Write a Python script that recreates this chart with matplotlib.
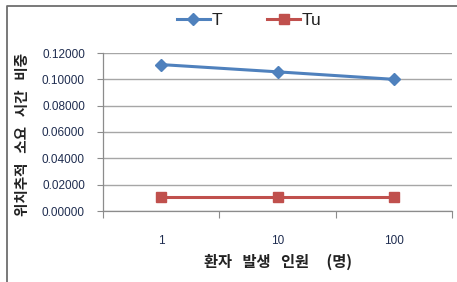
import matplotlib
matplotlib.use("Agg")
import matplotlib.pyplot as plt
from matplotlib.lines import Line2D
from matplotlib.ticker import FixedLocator, FormatStrFormatter

categories = ["1", "10", "100"]
series_T = [0.1112, 0.1057, 0.1000]
series_Tu = [0.0110, 0.0110, 0.0110]
y_ticks = [0.0, 0.02, 0.04, 0.06, 0.08, 0.10, 0.12]
x_label = "환자   발생   인원     (명)"
y_label = "위치추적   소요   시간   비중"

W, H = 457, 282
fig = plt.figure(figsize=(W / 100, H / 100), dpi=100)
fig.patch.set_facecolor("white")

ax = fig.add_axes([103 / W, 1 - 211 / H, (452 - 103) / W, (211 - 53) / H])

xs = list(range(len(categories)))
ax.plot(xs, series_T, color="#4F81BD", lw=2.2, marker="D", ms=6.5,
        markerfacecolor="#4F81BD", markeredgecolor="#4F81BD", label="T", zorder=3)
ax.plot(xs, series_Tu, color="#C0504D", lw=2.2, marker="s", ms=7.5,
        markerfacecolor="#C0504D", markeredgecolor="#C0504D", label="Tu", zorder=3)

ax.set_xlim(-0.5, len(categories) - 0.5)
ax.set_ylim(0, 0.12)

tick_color = "#1F2D50"
ax.yaxis.set_major_locator(FixedLocator(y_ticks))
ax.yaxis.set_major_formatter(FormatStrFormatter("%.5f"))
ax.tick_params(axis="y", length=4, width=0.8, color="#8c8c8c", pad=9,
               labelsize=8.5, labelcolor=tick_color)
for lab in ax.get_yticklabels():
    lab.set_fontfamily("Liberation Sans")

ax.set_xticks(xs)
ax.set_xticklabels(categories, fontfamily="Liberation Sans")
ax.set_xticks([i - 0.5 for i in range(len(categories) + 1)], minor=True)
ax.tick_params(axis="x", which="major", length=0, pad=17, labelsize=8.5,
               labelcolor=tick_color)
ax.tick_params(axis="x", which="minor", length=5, width=0.8, color="#8c8c8c")

ax.grid(axis="y", color="#a6a6a6", lw=1.0)
ax.set_axisbelow(True)
for s in ["top", "right"]:
    ax.spines[s].set_visible(False)
for s in ["left", "bottom"]:
    ax.spines[s].set_color("#8c8c8c")
    ax.spines[s].set_linewidth(0.9)

fig.text(278 / W, 1 - 262 / H, x_label, ha="center", va="center",
         fontsize=11, fontweight="bold", color="#222222",
         family=["Noto Sans CJK KR", "DejaVu Sans"])
fig.text(22 / W, 1 - 134 / H, y_label, ha="center", va="center", rotation=90,
         fontsize=10.5, fontweight="bold", color="#222222",
         family=["Noto Sans CJK KR", "DejaVu Sans"])

leg = fig.legend(loc="center", bbox_to_anchor=(249 / W, 1 - 20 / H), ncol=2,
                 frameon=False, handlelength=1.9, handletextpad=0.1,
                 columnspacing=2.6, prop={"family": "Liberation Sans", "size": 12.5})
for t in leg.get_texts():
    t.set_color("#222222")

# outer chart frame (top and left edges visible)
fig.add_artist(Line2D([6.5 / W, 6.5 / W, 1.0], [0.0, 1 - 5.5 / H, 1 - 5.5 / H],
                      transform=fig.transFigure, color="#6e6e6e", lw=1.3))

fig.savefig("out.png", dpi=100)
